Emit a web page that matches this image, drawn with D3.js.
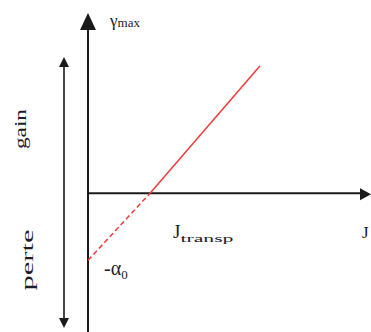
<!DOCTYPE html>
<html>
<head>
<meta charset="utf-8">
<script src="https://cdn.jsdelivr.net/npm/d3@7"></script>
<style>
  html, body { margin: 0; padding: 0; background: #fff; }
  svg { display: block; }
</style>
</head>
<body>
<svg id="chart" width="371" height="332"></svg>
<script>
// Current density J (in units of J_transp) and maximum gain γmax (in units of α0)
const currentDensity = [0, 1, 2.77];
const maxGain = [-1, 0, 1.9];
const transparencyCurrent = 1;
const lossLevel = -1;

const width = 371, height = 332;
const svg = d3.select("#chart")
  .attr("font-family", "'Liberation Serif', 'Times New Roman', 'DejaVu Serif', serif");

// Origin of the axes sits at (88, 193)
const x = d3.scaleLinear().domain([0, 4.56]).range([88, 371]);
const y = d3.scaleLinear().domain([-2.07, 2.69]).range([332, 13]);

const points = currentDensity.map((j, i) => ({ j, g: maxGain[i] }));
const line = d3.line().x(d => x(d.j)).y(d => y(d.g));

// Axes
const axisColor = "#1a1a1a";
const textColor = "#1c1c2a";
svg.append("line")
  .attr("x1", x(0)).attr("y1", y.range()[0])
  .attr("x2", x(0)).attr("y2", y(2.69) + 15)
  .attr("stroke", axisColor).attr("stroke-width", 2);
svg.append("path")
  .attr("d", `M${x(0)},${y(2.69)} L${x(0) - 8},${y(2.69) + 17} L${x(0) + 8},${y(2.69) + 17} Z`)
  .attr("fill", axisColor);

svg.append("line")
  .attr("x1", x(0)).attr("y1", y(0))
  .attr("x2", x.range()[1] - 9).attr("y2", y(0))
  .attr("stroke", axisColor).attr("stroke-width", 2);
svg.append("path")
  .attr("d", `M${x.range()[1]},${y(0) + 1} L${x.range()[1] - 11},${y(0) - 5} L${x.range()[1] - 11},${y(0) + 7} Z`)
  .attr("fill", axisColor);

// Gain / loss double arrow on the left
const ax = 64, aTop = 57, aBot = 328;
svg.append("line")
  .attr("x1", ax).attr("y1", aTop + 8).attr("x2", ax).attr("y2", aBot - 8)
  .attr("stroke", axisColor).attr("stroke-width", 1.6);
svg.append("path")
  .attr("d", `M${ax},${aTop} L${ax - 5},${aTop + 10} L${ax + 5},${aTop + 10} Z`)
  .attr("fill", axisColor);
svg.append("path")
  .attr("d", `M${ax},${aBot} L${ax - 5},${aBot - 10} L${ax + 5},${aBot - 10} Z`)
  .attr("fill", axisColor);

// Gain line: dashed below transparency, solid above
const red = "#f03a3a";
svg.append("path")
  .attr("d", line(points.filter(d => d.g <= 0)))
  .attr("fill", "none").attr("stroke", red).attr("stroke-width", 1.5)
  .attr("stroke-dasharray", "5,3");
svg.append("path")
  .attr("d", line(points.filter(d => d.g >= 0)))
  .attr("fill", "none").attr("stroke", red).attr("stroke-width", 1.5);

// Labels
const gm = svg.append("text").attr("x", 110).attr("y", 26).attr("fill", textColor);
gm.append("tspan").attr("font-size", 17).text("γ");
gm.append("tspan").attr("font-size", 13).attr("dy", 1).text("max");

const jt = svg.append("text").attr("x", x(transparencyCurrent) + 23).attr("y", y(0) + 45)
  .attr("fill", textColor);
jt.append("tspan").attr("font-size", 19).text("J");
jt.append("tspan").attr("font-size", 10).attr("dy", 4)
  .attr("textLength", 53).attr("lengthAdjust", "spacingAndGlyphs").text("transp");

svg.append("text").attr("x", 362).attr("y", y(0) + 45).attr("font-size", 17)
  .attr("fill", textColor).text("J");

const al = svg.append("text").attr("x", 104).attr("y", y(lossLevel) + 15).attr("fill", textColor);
al.append("tspan").attr("font-size", 20).text("-α");
al.append("tspan").attr("font-size", 13).attr("dy", 4).text("0");

svg.append("text")
  .attr("transform", "translate(26,129) rotate(-90)")
  .attr("text-anchor", "middle").attr("font-size", 17).attr("fill", textColor)
  .attr("textLength", 40).attr("lengthAdjust", "spacingAndGlyphs")
  .text("gain");
svg.append("text")
  .attr("transform", "translate(33,260) rotate(-90)")
  .attr("text-anchor", "middle").attr("font-size", 17).attr("fill", textColor)
  .attr("textLength", 61).attr("lengthAdjust", "spacingAndGlyphs")
  .text("perte");
</script>
</body>
</html>
